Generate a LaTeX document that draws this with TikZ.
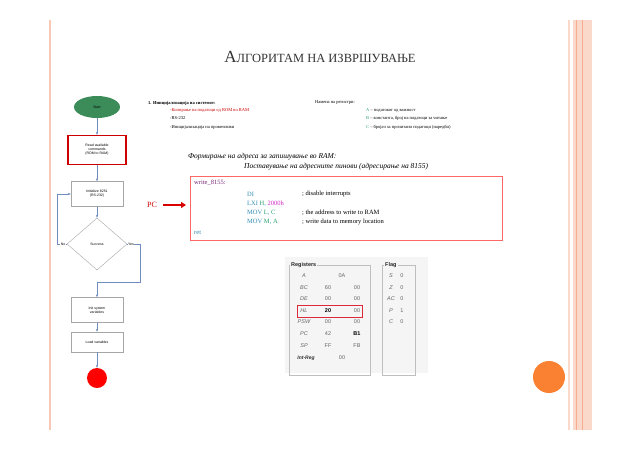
\documentclass[tikz,border=0pt]{standalone}
\usepackage{fontspec}
\setmainfont{Liberation Serif}
\setsansfont{Liberation Sans}
\usetikzlibrary{shapes.geometric,arrows.meta}
\definecolor{pinkl}{RGB}{248,200,180}
\definecolor{orng}{RGB}{250,128,50}
\definecolor{fgreen}{RGB}{60,140,90}
\definecolor{flow}{RGB}{110,140,190}
\definecolor{regred}{RGB}{220,40,60}
\definecolor{codeg}{RGB}{40,160,110}
\definecolor{codep}{RGB}{120,40,120}
\definecolor{codem}{RGB}{210,40,200}
\definecolor{codeb}{RGB}{50,140,180}
\begin{document}
\begin{tikzpicture}[x=1pt,y=-1pt,
  fbox/.style={draw=gray!70,fill=white,minimum width=52pt,align=center,font=\sffamily\fontsize{3.5}{4}\selectfont},
  farrow/.style={draw=flow,-{Stealth[length=3pt]}},
  tiny/.style={font=\fontsize{4.5}{5.5}\selectfont,anchor=west,inner sep=0},
  code/.style={font=\fontsize{6.5}{7.5}\selectfont,anchor=west,inner sep=0},
  reg/.style={font=\sffamily\fontsize{5.5}{6}\selectfont,text=gray!80!black,inner sep=0}]
\useasboundingbox (0,0) rectangle (638,451);
\fill[white] (0,0) rectangle (638,451);
% decorations
\draw[pinkl,line width=1.5pt] (50,20) -- (50,430);
\fill[pinkl!70] (568,20) rectangle (570,430);
\fill[pinkl!70] (573,20) rectangle (592,430);
\draw[pinkl!150,line width=0.6pt] (576,20) -- (576,430) (582,20) -- (582,430);
\fill[orng] (549,377) circle (16);
\node[text=gray!40!black,inner sep=0] (title) at (320,57) {\fontsize{17}{20}\selectfont А\fontsize{12.5}{15}\selectfont ЛГОРИТАМ НА ИЗВРШУВАЊЕ};
% flowchart
\node[ellipse,fill=fgreen,minimum width=46pt,minimum height=22pt,inner sep=0,font=\sffamily\fontsize{3.5}{4}\selectfont] (start) at (97,107) {Start};
\node[fbox,draw=red!80!black,line width=1.2pt,minimum width=58pt,minimum height=29pt] (read) at (97,150) {Read available\\commands\\(ROM to RAM)};
\node[fbox,minimum height=25pt] (init) at (97,194) {Initialize 8251\\(RS-232)};
\node[diamond,draw=gray!70,fill=white,minimum width=60pt,minimum height=52pt,inner sep=0,font=\sffamily\fontsize{3.5}{4}\selectfont] (succ) at (97,244) {Success};
\node[fbox,minimum height=25pt] (isys) at (97,310) {Init system\\variables};
\node[fbox,minimum height=20pt] (load) at (97,342) {Load variables};
\node[circle,fill=red,minimum size=20pt,inner sep=0] (end) at (97,378) {};
\draw[farrow] (start) -- (read);
\draw[farrow] (read) -- (init);
\draw[farrow] (init) -- (succ);
\coordinate (nl) at (57,244);
\coordinate (nu) at (57,194);
\draw[farrow] (succ.west) -- (nl) -- (nu) -- (init.west);
\node[fill=white,inner sep=0.5pt,font=\sffamily\fontsize{3.5}{4}\selectfont] (nolab) at (63,244) {No};
\coordinate (yr) at (140,244);
\coordinate (yd) at (140,282);
\coordinate (yl) at (97,282);
\draw[farrow] (succ.east) -- (yr) -- (yd) -- (yl) -- (isys);
\node[fill=white,inner sep=0.5pt,font=\sffamily\fontsize{3.5}{4}\selectfont] (yeslab) at (131,244) {Yes};
\draw[farrow] (isys) -- (load);
\draw[farrow] (load) -- (end);
% top text
\node[tiny,font=\bfseries\fontsize{4.5}{5.5}\selectfont] (t1) at (148,103) {1. Иницијализација на системот:};
\node[tiny,text=red!80!black] (t2) at (170,110) {-Копирање на податоци од ROM во RAM};
\node[tiny] (t3) at (170,118) {-RS-232};
\node[tiny] (t4) at (170,127) {-Иницијализација на променливи};
\node[tiny] (r1) at (315,103) {Намена на регистри:};
\node[tiny] (r2) at (366,110) {\textcolor{codeg}{A} – податокот од важност};
\node[tiny] (r3) at (366,118) {\textcolor{codeg}{B} – константа, број на податоци за читање};
\node[tiny] (r4) at (366,127) {\textcolor{codeg}{C} – бројач за прочитани податоци (наредби)};
% headings
\node[code,font=\itshape\fontsize{7.5}{9}\selectfont] (h1) at (188,157) {Формирање на адреса за запишување во RAM:};
\node[code,font=\itshape\fontsize{7.5}{9}\selectfont] (h2) at (244,167) {Поставување на адресните пинови (адресирање на 8155)};
% code box
\node[draw=red!60,line width=0.8pt,minimum width=312pt,minimum height=64pt,inner sep=0] (cbox) at (346,208) {};
\node[code,text=codep] (c0) at (194,183) {write\_8155:};
\node[code,text=codeb] (c1) at (247,194) {DI};
\node[code] (c1c) at (302,194) {; disable interrupts};
\node[code,text=codeb] (c2) at (247,204) {LXI \textcolor{codeg}{H}, \textcolor{codem}{2000h}};
\node[code,text=codeb] (c3) at (247,213) {MOV \textcolor{codeg}{L}, \textcolor{codeg}{C}};
\node[code] (c3c) at (302,213) {; the address to write to RAM};
\node[code,text=codeb] (c4) at (247,222) {MOV \textcolor{codeg}{M}, \textcolor{codeg}{A}};
\node[code] (c4c) at (302,222) {; write data to memory location};
\node[code,text=codeb] (c5) at (194,233) {ret};
\node[font=\fontsize{8}{9}\selectfont,text=red!80!black,inner sep=0] (pc) at (152,205) {PC};
\coordinate (pcend) at (186,205);
\draw[red!85!black,line width=1.5pt,-{Triangle[length=5pt,width=6pt]}] (163,205) -- (pcend);
% registers panel
\fill[gray!8] (285,257) rectangle (428,373);
\draw[gray!50,line width=0.4pt] (289,265) rectangle (370,375);
\draw[gray!50,line width=0.4pt] (382,265) rectangle (415,375);
\node[reg,font=\sffamily\bfseries\fontsize{5.5}{6}\selectfont,fill=gray!8,inner sep=1pt,text=gray!30!black,anchor=west] (regt) at (290,265) {Registers};
\node[reg,font=\sffamily\bfseries\fontsize{5.5}{6}\selectfont,fill=gray!8,inner sep=1pt,text=gray!30!black,anchor=west] (flagt) at (384,265) {Flag};
\foreach \n/\y in {A/276,BC/288,DE/299,HL/311,PSW/322,PC/334,SP/346}{
  \node[reg,font=\sffamily\itshape\fontsize{5.5}{6}\selectfont] at (304,\y) {\n};
}
\node[reg,font=\sffamily\bfseries\itshape\fontsize{5}{6}\selectfont,text=gray!40!black] at (306,358) {Int-Reg};
\node[reg] at (342,358) {00};
\node[reg] at (342,276) {0A};
\node[reg] at (328,288) {60}; \node[reg] at (357,288) {00};
\node[reg] at (328,299) {00}; \node[reg] at (357,299) {00};
\node[reg,font=\sffamily\bfseries\fontsize{5.5}{6}\selectfont,text=black] at (328,311) {20}; \node[reg] at (357,311) {00};
\node[reg] at (328,322) {00}; \node[reg] at (357,322) {00};
\node[reg] at (328,334) {42}; \node[reg,font=\sffamily\bfseries\fontsize{5.5}{6}\selectfont,text=black] at (357,334) {B1};
\node[reg] at (328,346) {FF}; \node[reg] at (357,346) {FB};
\node[draw=regred,line width=0.9pt,minimum width=65pt,minimum height=12pt,inner sep=0] (hlbox) at (329.5,311) {};
\foreach \f/\v/\y in {S/0/276,Z/0/288,AC/0/299,P/1/311,C/0/322}{
  \node[reg,font=\sffamily\itshape\fontsize{5.5}{6}\selectfont] at (391,\y) {\f};
  \node[reg] at (402,\y) {\v};
}
\end{tikzpicture}
\end{document}
